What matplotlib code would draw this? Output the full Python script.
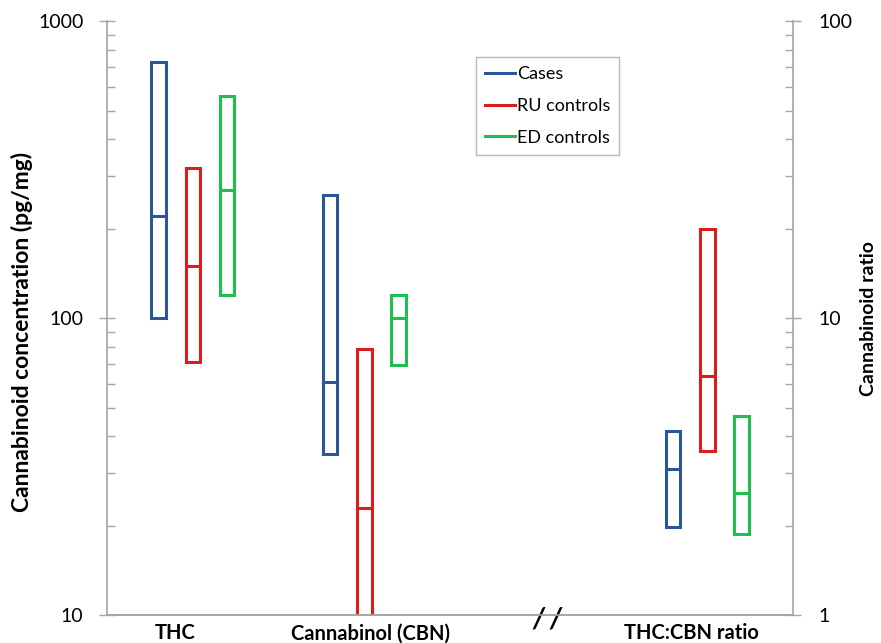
import matplotlib
matplotlib.use("Agg")
import matplotlib.pyplot as plt
from matplotlib.ticker import LogLocator, NullFormatter, FixedLocator, FixedFormatter
from matplotlib.lines import Line2D

plt.rcParams['font.family'] = ['Lato', 'DejaVu Sans']

# ---- data ----
series = ['Cases', 'RU controls', 'ED controls']
categories = ['THC', 'Cannabinol (CBN)', 'THC:CBN ratio']
thc_low = [100, 71, 120]
thc_med = [220, 150, 270]
thc_high = [728, 320, 559]
cbn_low = [34.8, 5, 69.5]
cbn_med = [61, 22.9, 100]
cbn_high = [260, 78.7, 120]
ratio_low = [1.98, 3.57, 1.87]
ratio_med = [3.1, 6.4, 2.57]
ratio_high = [4.17, 20.0, 4.68]
left_ticks = [10, 100, 1000]
right_ticks = [1, 10, 100]

colors = ['#2B5797', '#DD1C1C', '#1FBF4F']
axis_gray = '#A6A6A6'

fig = plt.figure(figsize=(8.81, 6.43), dpi=100)
ax = fig.add_axes([0.1215, 0.0435, 0.7787, 0.9235])
ax2 = ax.twinx()

group_x = [0.5, 1.5, 3.5]
offsets = [-0.2, 0.0, 0.2]
bw = 0.085
lw = 2.2

def draw(axis, gx, low, med, high):
    for i in range(3):
        x = gx + offsets[i]
        axis.bar(x, high[i] - low[i], bottom=low[i], width=bw, fill=False,
                 edgecolor=colors[i], linewidth=lw, zorder=3)
        axis.plot([x - bw / 2, x + bw / 2], [med[i], med[i]], color=colors[i],
                  linewidth=lw, solid_capstyle='butt', zorder=3)

draw(ax, group_x[0], thc_low, thc_med, thc_high)
draw(ax, group_x[1], cbn_low, cbn_med, cbn_high)
draw(ax2, group_x[2], ratio_low, ratio_med, ratio_high)

for a, lim, ticks, pad in [(ax, (10, 1000), left_ticks, 11),
                           (ax2, (1, 100), right_ticks, 12)]:
    a.set_yscale('log')
    a.set_ylim(*lim)
    a.yaxis.set_major_locator(FixedLocator(ticks))
    a.yaxis.set_major_formatter(FixedFormatter([str(t) for t in ticks]))
    a.yaxis.set_minor_locator(LogLocator(base=10, subs=range(2, 10)))
    a.yaxis.set_minor_formatter(NullFormatter())
    a.tick_params(axis='y', which='major', direction='inout', length=12,
                  width=1, color=axis_gray, labelsize=14, pad=pad)
    a.tick_params(axis='y', which='minor', direction='in', length=6,
                  width=1, color=axis_gray)
    for s in a.spines.values():
        s.set_color(axis_gray)
        s.set_linewidth(1.2)
    a.spines['top'].set_visible(False)

ax.set_xlim(0, 4)
ax.spines['right'].set_visible(False)
ax2.spines['left'].set_visible(False)
ax.set_xticks([0.397, 1.534, 3.405])
ax.set_xticklabels(categories, fontsize=14.5, fontweight='bold')
ax.tick_params(axis='x', length=0, pad=6)

# axis break mark
ax.text(2.565, -0.008, '/ /', transform=ax.get_xaxis_transform(),
        ha='center', va='center', fontsize=20, fontweight='bold',
        style='italic', clip_on=False)

ax.set_ylabel('Cannabinoid concentration (pg/mg)', fontsize=16.5,
              fontweight='bold')
ax.yaxis.set_label_coords(-0.108, 0.476)
ax2.set_ylabel('Cannabinoid ratio', fontsize=14, fontweight='bold')
ax2.yaxis.set_label_coords(1.097, 0.5)

handles = [Line2D([], [], color=c, linewidth=lw) for c in colors]
leg = ax.legend(handles, series, loc='upper left',
                bbox_to_anchor=(0.538, 0.939), borderaxespad=0,
                fontsize=13, frameon=True, fancybox=False,
                edgecolor=axis_gray, handlelength=1.65,
                handletextpad=0.1, labelspacing=0.86, borderpad=0.5)
leg.get_frame().set_linewidth(1.0)

fig.savefig('out.png', dpi=100)
